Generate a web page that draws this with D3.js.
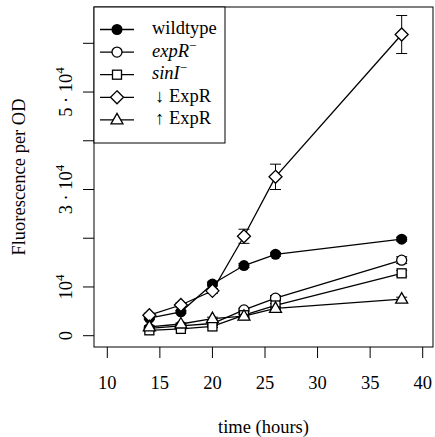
<!DOCTYPE html>
<html>
<head>
<meta charset="utf-8">
<script src="https://cdn.jsdelivr.net/npm/d3@7"></script>
<style>
body { margin:0; background:#fff; }
</style>
</head>
<body>
<svg id="chart" width="435" height="437" font-family="'Liberation Serif', Tinos, 'Times New Roman', Times, 'DejaVu Serif', serif"></svg>
<script>
// time points (hours)
var hours= [14, 17, 20, 23, 26, 38];

// fluorescence per OD for each strain
var wildtype= [3600, 4900, 10600, 14400, 16700, 19800];
var expR= [1500, 2000, 2500, 5300, 7700, 15500];
var sinI= [1100, 1400, 1900, 4200, 6200, 12800];
var downExpR= [4200, 6300, 9200, 20400, 32600, 61800];
var upExpR= [1800, 2400, 3500, 4000, 5600, 7500];

// error bar half widths
var wildtypeErr= [300, 300, 400, 400, 400, 400];
var expRErr= [200, 200, 200, 300, 500, 700];
var sinIErr= [200, 200, 200, 300, 400, 600];
var downErr= [400, 400, 500, 1450, 2600, 3900];
var upErr= [200, 200, 300, 300, 300, 400];

var xTicks= [10, 15, 20, 25, 30, 35, 40];
var yTicks= [0, 10000, 20000, 30000, 40000, 50000, 60000];
var yLabels= {0: ["0", ""], 10000: ["10", "4"], 30000: ["3 \u00b7 10", "4"], 50000: ["5 \u00b7 10", "4"]};

var series= [
    {name: "wildtype", vals: wildtype, err: wildtypeErr, shape: "filled"},
    {name: "expR", vals: expR, err: expRErr, shape: "circle"},
    {name: "sinI", vals: sinI, err: sinIErr, shape: "square"},
    {name: "down", vals: downExpR, err: downErr, shape: "diamond"},
    {name: "up", vals: upExpR, err: upErr, shape: "triangle"}
];

//plot box
var boxL= 94, boxR= 433, boxT= 7, boxB= 347;
var fs= 18.5;

var svg= d3.select("#chart");

var x= d3.scaleLinear().domain([10, 40]).range([107.3, 422.7]);
var y= d3.scaleLinear().domain([0, 60000]).range([335.7, 43.3]);

svg.append("rect")
    .attr("x", boxL).attr("y", boxT)
    .attr("width", boxR-boxL).attr("height", boxB-boxT)
    .attr("fill", "none").attr("stroke", "#000").attr("stroke-width", 1);

//x axis ticks
var xAx= svg.append("g");
xAx.selectAll("line").data(xTicks).enter().append("line")
    .attr("x1", function(d) {return x(d)}).attr("x2", function(d) {return x(d)})
    .attr("y1", boxB).attr("y2", boxB+11)
    .attr("stroke", "#000");
xAx.selectAll("text").data(xTicks).enter().append("text")
    .attr("x", function(d) {return x(d)}).attr("y", 388.5)
    .attr("text-anchor", "middle").attr("font-size", fs)
    .text(function(d) {return d});

//y axis ticks
var yAx= svg.append("g");
yAx.selectAll("line").data(yTicks).enter().append("line")
    .attr("x1", boxL-11).attr("x2", boxL)
    .attr("y1", function(d) {return y(d)}).attr("y2", function(d) {return y(d)})
    .attr("stroke", "#000");
yTicks.forEach(function(d) {
    if (!(d in yLabels)) return;
    var t= yAx.append("text")
        .attr("transform", "translate(72," + y(d) + ") rotate(-90)")
        .attr("text-anchor", "middle").attr("font-size", fs);
    t.append("tspan").text(yLabels[d][0]);
    if (yLabels[d][1] != "") {
        t.append("tspan").attr("dy", -8).attr("font-size", 13).text(yLabels[d][1]);
    }
});

svg.append("text")
    .attr("x", (boxL+boxR)/2).attr("y", 433)
    .attr("text-anchor", "middle").attr("font-size", fs)
    .text("time (hours)");
svg.append("text")
    .attr("transform", "translate(25," + (boxT+boxB)/2 + ") rotate(-90)")
    .attr("text-anchor", "middle").attr("font-size", fs)
    .text("Fluorescence per OD");

function drawMarker(g, shape, cx, cy) {
    if (shape == "filled") {
        g.append("circle").attr("cx", cx).attr("cy", cy).attr("r", 5.5).attr("fill", "#000");
    } else if (shape == "circle") {
        g.append("circle").attr("cx", cx).attr("cy", cy).attr("r", 5)
            .attr("fill", "#fff").attr("stroke", "#000").attr("stroke-width", 1.3);
    } else if (shape == "square") {
        g.append("rect").attr("x", cx-4.5).attr("y", cy-4.5).attr("width", 9).attr("height", 9)
            .attr("fill", "#fff").attr("stroke", "#000").attr("stroke-width", 1.3);
    } else if (shape == "diamond") {
        g.append("path").attr("d", "M" + cx + "," + (cy-6.5) + "L" + (cx+6.5) + "," + cy + "L" + cx + "," + (cy+6.5) + "L" + (cx-6.5) + "," + cy + "Z")
            .attr("fill", "#fff").attr("stroke", "#000").attr("stroke-width", 1.3);
    } else if (shape == "triangle") {
        g.append("path").attr("d", "M" + cx + "," + (cy-6.5) + "L" + (cx+6) + "," + (cy+4) + "L" + (cx-6) + "," + (cy+4) + "Z")
            .attr("fill", "#fff").attr("stroke", "#000").attr("stroke-width", 1.3);
    }
}

var line= d3.line()
    .x(function(d) {return x(d[0])})
    .y(function(d) {return y(d[1])});

series.forEach(function(s) {
    var pts= hours.map(function(h, i) {return [h, s.vals[i], s.err[i]]});
    var g= svg.append("g");
    g.append("path").datum(pts)
        .attr("d", line).attr("fill", "none")
        .attr("stroke", "#000").attr("stroke-width", 1.3);
    //error bars
    pts.forEach(function(p) {
        var cx= x(p[0]);
        var y1= y(p[1]-p[2]), y2= y(p[1]+p[2]);
        g.append("line").attr("x1", cx).attr("x2", cx).attr("y1", y1).attr("y2", y2).attr("stroke", "#000");
        g.append("line").attr("x1", cx-5.5).attr("x2", cx+5.5).attr("y1", y1).attr("y2", y1).attr("stroke", "#000");
        g.append("line").attr("x1", cx-5.5).attr("x2", cx+5.5).attr("y1", y2).attr("y2", y2).attr("stroke", "#000");
    });
    pts.forEach(function(p) {
        drawMarker(g, s.shape, x(p[0]), y(p[1]));
    });
});

//legend
var leg= svg.append("g");
leg.append("rect").attr("x", boxL).attr("y", boxT)
    .attr("width", 225-boxL).attr("height", 143-boxT)
    .attr("fill", "#fff").attr("stroke", "#000");
var legRows= [
    {shape: "filled", dx: 0, parts: [["wildtype", ""]]},
    {shape: "circle", dx: 0, parts: [["expR", "i"], ["\u2212", "sup"]]},
    {shape: "square", dx: 0, parts: [["sinI", "i"], ["\u2212", "sup"]]},
    {shape: "diamond", dx: 3, parts: [["\u2193 ExpR", ""]]},
    {shape: "triangle", dx: 3, parts: [["\u2191 ExpR", ""]]}
];
legRows.forEach(function(r, i) {
    var ly= 29.5 + i*22.6;
    leg.append("line").attr("x1", 100).attr("x2", 134).attr("y1", ly).attr("y2", ly)
        .attr("stroke", "#000").attr("stroke-width", 1.3);
    drawMarker(leg, r.shape, 117, ly);
    var t= leg.append("text").attr("x", 152 + r.dx).attr("y", ly+4.5).attr("font-size", fs);
    r.parts.forEach(function(p) {
        var sp= t.append("tspan").text(p[0]);
        if (p[1] == "i") sp.attr("font-style", "italic");
        if (p[1] == "sup") sp.attr("dy", -7).attr("font-size", 13);
    });
});
</script>
</body>
</html>
